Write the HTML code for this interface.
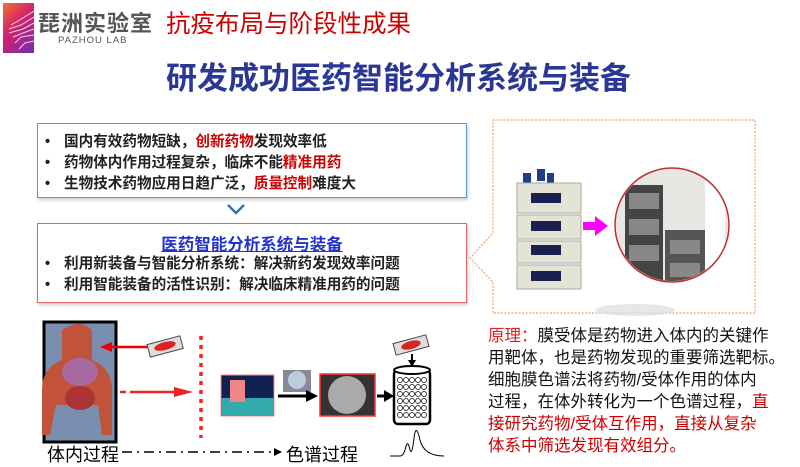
<!DOCTYPE html>
<html><head><meta charset="utf-8"><style>
body{margin:0;width:800px;height:464px;background:#fff;position:relative;overflow:hidden;font-family:"Liberation Sans","Noto Sans CJK SC",sans-serif}
.a{position:absolute;white-space:nowrap}
.box p{margin:0;position:absolute;left:26px;font-size:14.6px;font-weight:bold;color:#222;line-height:18px}
.box p:before{content:"•";position:absolute;left:-19px}
.r{color:#c00}
</style></head><body>
<div class="a" style="left:3px;top:3px;width:31px;height:50px;background:linear-gradient(135deg,#f07030,#d02070 45%,#7030b0)"></div>
<svg class="a" style="left:3px;top:3px" width="31" height="50"><g stroke="#fff" stroke-width="1" fill="none" opacity=".8"><path d="M31 8 L15 18 L8 22"/><path d="M31 14 L18 22 L6 26"/><path d="M31 20 L20 26 L6 30"/><path d="M31 26 L20 30 L10 34"/><path d="M31 32 L18 34 L12 40"/><path d="M31 38 L22 40 L16 46"/></g></svg>
<div class="a" style="left:38px;top:6px;font-size:22px;font-weight:bold;color:#555;letter-spacing:1px">琵洲实验室</div>
<div class="a" style="left:58px;top:35px;font-size:9.5px;color:#555;letter-spacing:1px">PAZHOU LAB</div>
<div class="a" style="left:166px;top:5px;font-size:24.5px;color:#c00">抗疫布局与阶段性成果</div>
<div class="a" style="left:166px;top:53px;font-size:31px;font-weight:bold;color:#2b3795">研发成功医药智能分析系统与装备</div>

<div class="a box" style="left:37px;top:123px;width:428px;height:73px;border:1.5px solid #5b9bd5;box-shadow:1px 2px 3px #ccc">
<p style="top:9px">国内有效药物短缺，<span class="r">创新药物</span>发现效率低</p>
<p style="top:30px">药物体内作用过程复杂，临床不能<span class="r">精准用药</span></p>
<p style="top:51px">生物技术药物应用日趋广泛，<span class="r">质量控制</span>难度大</p>
</div>
<svg class="a" style="left:226px;top:203px" width="20" height="12"><path d="M2 2 L10 10 L18 2" stroke="#2e75b6" stroke-width="2.5" fill="none"/></svg>
<div class="a box" style="left:37px;top:223px;width:428px;height:78px;border:1.5px solid #e06666;box-shadow:1px 2px 3px #ccc">
<div class="a" style="left:0;width:428px;top:7px;text-align:center;font-size:16.5px;font-weight:bold;color:#2233cc"><span style="text-decoration:underline">医药智能分析系统与装备</span></div>
<p style="top:31px">利用新装备与智能分析系统：解决新药发现效率问题</p>
<p style="top:52px">利用智能装备的活性识别：解决临床精准用药的问题</p>
</div>

<svg class="a" style="left:465px;top:115px" width="300" height="205">
<path d="M28 5 H290 V198 H28 V167 L5 143 L28 118 Z" fill="none" stroke="#f4a070" stroke-width="1.2" stroke-dasharray="2 1.5"/>
<ellipse cx="170" cy="195" rx="40" ry="6" fill="#ddd" opacity=".7"/>
<g transform="translate(52,50)">
<rect x="6" y="8" width="8" height="10" fill="#223a88"/><rect x="20" y="4" width="8" height="12" fill="#223a88"/><rect x="30" y="8" width="7" height="10" fill="#223a88"/>
<rect x="0" y="18" width="64" height="30" fill="#e4e4d4" stroke="#aaa"/><rect x="14" y="28" width="30" height="10" fill="#1a2050"/>
<rect x="0" y="50" width="64" height="24" fill="#e4e4d4" stroke="#aaa"/><rect x="14" y="56" width="30" height="10" fill="#1a2050"/>
<rect x="0" y="76" width="64" height="22" fill="#e4e4d4" stroke="#aaa"/><rect x="14" y="80" width="30" height="10" fill="#1a2050"/>
<rect x="0" y="100" width="64" height="24" fill="#e4e4d4" stroke="#aaa"/><rect x="14" y="106" width="30" height="10" fill="#1a2050"/>
</g>
<path d="M118 107 H130 V101 L143 111 L130 121 V115 H118 Z" fill="#f0f"/>
<circle cx="207" cy="110" r="57" fill="#e8e6e2" stroke="#c03030" stroke-width="1.5"/>
<clipPath id="c"><circle cx="207" cy="110" r="56"/></clipPath>
<g clip-path="url(#c)"><rect x="150" y="165" width="120" height="10" fill="#333"/>
<rect x="160" y="70" width="38" height="100" fill="#444"/><rect x="164" y="78" width="30" height="16" fill="#888"/><rect x="164" y="104" width="30" height="16" fill="#888"/><rect x="164" y="130" width="30" height="16" fill="#888"/>
<rect x="200" y="115" width="40" height="55" fill="#555"/><rect x="205" y="125" width="30" height="14" fill="#888"/><rect x="205" y="148" width="30" height="14" fill="#888"/>
<rect x="240" y="60" width="20" height="110" fill="#fff"/></g>
</svg>

<svg class="a" style="left:0;top:310px" width="480" height="154">
<rect x="44" y="12" width="72" height="120" fill="#7a8fb0" stroke="#000" stroke-width="3"/>
<path d="M62 20 q18-12 30 0 v30 q20 8 20 30 v45 h-10 l-4-30 h-42 l-6 30 h-8 v-45 q0-22 20-30z" fill="#c0533a"/>
<ellipse cx="80" cy="62" rx="18" ry="14" fill="#a86aa0"/><ellipse cx="80" cy="88" rx="15" ry="12" fill="#a33"/>
<path d="M148 37 H108" stroke="#e00" stroke-width="2.5"/><path d="M100 37 L112 32 V42Z" fill="#e00"/>
<rect x="148" y="30" width="34" height="13" transform="rotate(-15 165 36)" fill="#ddd" stroke="#444"/><ellipse cx="165" cy="36" rx="11" ry="4" transform="rotate(-15 165 36)" fill="#d22"/>
<path d="M120 82 H126 M130 82 H176" stroke="#e22" stroke-width="2.5"/><path d="M193 82 L174 77 V87Z" fill="#e22"/>
<path d="M201 26 V128" stroke="#f22" stroke-width="3.5" stroke-dasharray="4 5"/>
<rect x="221" y="65" width="53" height="41" fill="#102050" stroke="#f88"/><rect x="221" y="88" width="53" height="18" fill="#3aa"/><rect x="230" y="70" width="15" height="22" fill="#e88"/>
<rect x="283" y="60" width="28" height="22" fill="#889"/><circle cx="297" cy="70" r="9" fill="#bcd"/>
<path d="M278 86 H308" stroke="#000" stroke-width="3"/><path d="M318 86 L306 80 V92Z"/>
<rect x="320" y="64" width="55" height="42" fill="#333" stroke="#f33" stroke-width="1.5"/><circle cx="347" cy="85" r="19" fill="#aaa"/>
<path d="M377 86 H386" stroke="#000" stroke-width="3"/><path d="M394 86 L384 80 V92Z"/>
<rect x="394" y="29" width="34" height="12" transform="rotate(-15 411 35)" fill="#ddd" stroke="#444"/><ellipse cx="411" cy="35" rx="10" ry="4" transform="rotate(-15 411 35)" fill="#d22"/>
<path d="M412 44 V52" stroke="#000" stroke-width="2"/><path d="M412 57 L408 50 H416Z"/>
<rect x="394" y="60" width="36" height="54" fill="#fff" stroke="#000" stroke-width="2.5" rx="4"/><ellipse cx="412" cy="60" rx="18" ry="4" fill="#fff" stroke="#000" stroke-width="2"/>
<g fill="none" stroke="#000" stroke-width=".7"><circle cx="400" cy="70" r="2.5"/><circle cx="406" cy="70" r="2.5"/><circle cx="412" cy="70" r="2.5"/><circle cx="418" cy="70" r="2.5"/><circle cx="424" cy="70" r="2.5"/><circle cx="400" cy="77" r="2.5"/><circle cx="406" cy="77" r="2.5"/><circle cx="412" cy="77" r="2.5"/><circle cx="418" cy="77" r="2.5"/><circle cx="424" cy="77" r="2.5"/><circle cx="400" cy="84" r="2.5"/><circle cx="406" cy="84" r="2.5"/><circle cx="412" cy="84" r="2.5"/><circle cx="418" cy="84" r="2.5"/><circle cx="424" cy="84" r="2.5"/><circle cx="400" cy="91" r="2.5"/><circle cx="406" cy="91" r="2.5"/><circle cx="412" cy="91" r="2.5"/><circle cx="418" cy="91" r="2.5"/><circle cx="424" cy="91" r="2.5"/><circle cx="400" cy="98" r="2.5"/><circle cx="406" cy="98" r="2.5"/><circle cx="412" cy="98" r="2.5"/><circle cx="418" cy="98" r="2.5"/><circle cx="424" cy="98" r="2.5"/><circle cx="400" cy="105" r="2.5"/><circle cx="406" cy="105" r="2.5"/><circle cx="412" cy="105" r="2.5"/><circle cx="418" cy="105" r="2.5"/><circle cx="424" cy="105" r="2.5"/></g>
<path d="M390 146 H400 Q404 146 406 136 Q408 130 410 140 Q412 146 414 128 Q416 112 420 130 Q424 146 444 146" fill="none" stroke="#000"/>
<path d="M122 142 H276" stroke="#000" stroke-width="1.5" stroke-dasharray="10 5 2 5"/><path d="M282 142 L274 138 V146Z"/>
</svg>
<div class="a" style="left:47px;top:441px;font-size:18px;color:#000">体内过程</div>
<div class="a" style="left:286px;top:441px;font-size:18px;color:#000">色谱过程</div>

<div class="a" style="left:488px;top:325px;width:312px;font-size:16.5px;line-height:22px;color:#111;white-space:normal;word-break:break-all"><span style="color:#e02020">原理：</span>膜受体是药物进入体内的关键作<br>用靶体，也是药物发现的重要筛选靶标。<br>细胞膜色谱法将药物/受体作用的体内<br>过程，在体外转化为一个色谱过程，<span class="r">直<br>接研究药物/受体互作用，直接从复杂<br>体系中筛选发现有效组分。</span></div>
</body></html>
